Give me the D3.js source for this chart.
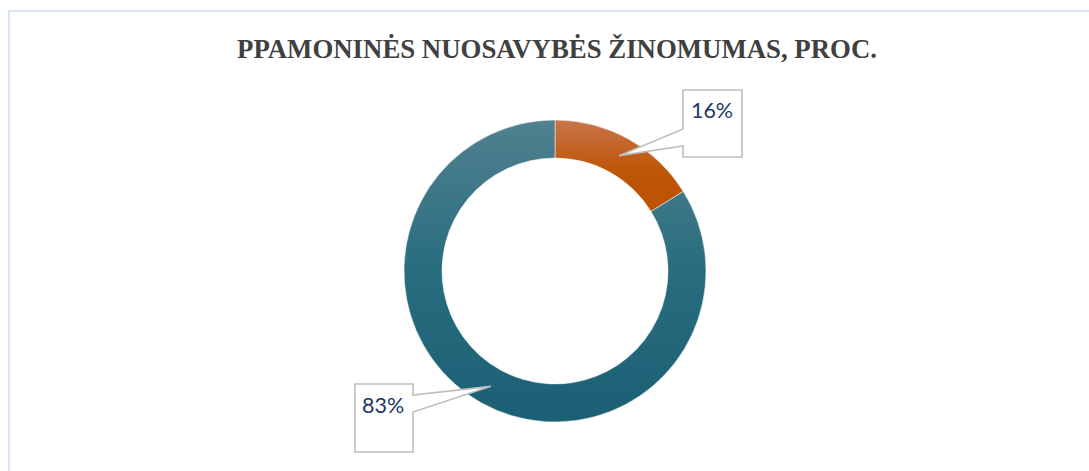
<!DOCTYPE html>
<html><head><meta charset="utf-8">
<script src="https://cdn.jsdelivr.net/npm/d3@7"></script>
<style>html,body{margin:0;padding:0;background:#fff;}</style>
</head><body>
<svg id="c" width="1089" height="471"></svg>
<script>
const title = "PPAMONINĖS NUOSAVYBĖS ŽINOMUMAS, PROC.";
const categories = ["Žino", "Nežino"];
const values = [16, 83];
const labels = ["16%", "83%"];
const gradStops = [
  [["0%", "#c8744c"], ["55%", "#bd5607"], ["100%", "#bb5200"]],
  [["0%", "#50818f"], ["50%", "#286d7f"], ["100%", "#1a5f73"]]
];

const svg = d3.select("#c");
svg.append("rect").attr("x", 9).attr("y", 11).attr("width", 1200).attr("height", 600)
  .attr("fill", "#fff").attr("stroke", "#d9e4f5").attr("stroke-width", 2);

svg.append("text").attr("x", 557).attr("y", 58).attr("text-anchor", "middle")
  .attr("font-family", "Liberation Serif, Times New Roman, serif").attr("font-weight", "bold")
  .attr("font-size", 26.8).attr("fill", "#404040").text(title);

const cx = 555, cy = 271, R = 151, r = 113;
const defs = svg.append("defs");
gradStops.forEach((stops, i) => {
  const g = defs.append("linearGradient").attr("id", "g" + i)
    .attr("x1", 0).attr("y1", 0).attr("x2", 0).attr("y2", 1);
  stops.forEach(s => g.append("stop").attr("offset", s[0]).attr("stop-color", s[1]));
});

const pie = d3.pie().sort(null).value(d => d);
const arcs = pie(values);
const arc = d3.arc().innerRadius(r).outerRadius(R);
const gp = svg.append("g").attr("transform", `translate(${cx},${cy})`);
gp.selectAll("path").data(arcs).join("path")
  .attr("d", arc)
  .attr("fill", (d, i) => `url(#g${i})`)
  .attr("stroke", "#fff").attr("stroke-width", 0.5);

// callouts (box geometry in px; tip at slice centroid)
const callouts = [
  {box: [683, 90, 59, 67], base: [129, 146], side: "left", tx: 712, ty: 118, anchor: "middle"},
  {box: [355, 384, 58, 68], base: [395, 412], side: "right", tx: 362, ty: 413, anchor: "start"}
];
arcs.forEach((a, i) => {
  const c = callouts[i];
  const [px, py] = arc.centroid(a);
  const tx = cx + px, ty = cy + py;
  const [bx, by, bw, bh] = c.box;
  let pts;
  if (c.side === "left") {
    pts = [[bx, by], [bx + bw, by], [bx + bw, by + bh], [bx, by + bh], [bx, c.base[1]], [tx, ty], [bx, c.base[0]]];
  } else {
    pts = [[bx, by], [bx + bw, by], [bx + bw, c.base[0]], [tx, ty], [bx + bw, c.base[1]], [bx + bw, by + bh], [bx, by + bh]];
  }
  svg.append("path").attr("d", d3.line()(pts) + "Z")
    .attr("fill", "#fff").attr("stroke", "#bfbfbf").attr("stroke-width", 1.6).attr("stroke-linejoin", "miter");
  svg.append("text").attr("x", c.tx).attr("y", c.ty).attr("text-anchor", c.anchor)
    .attr("font-family", "Lato, Carlito, Calibri, sans-serif").attr("font-size", 21.5)
    .attr("fill", "#203864").text(labels[i]);
});
</script>
</body></html>
